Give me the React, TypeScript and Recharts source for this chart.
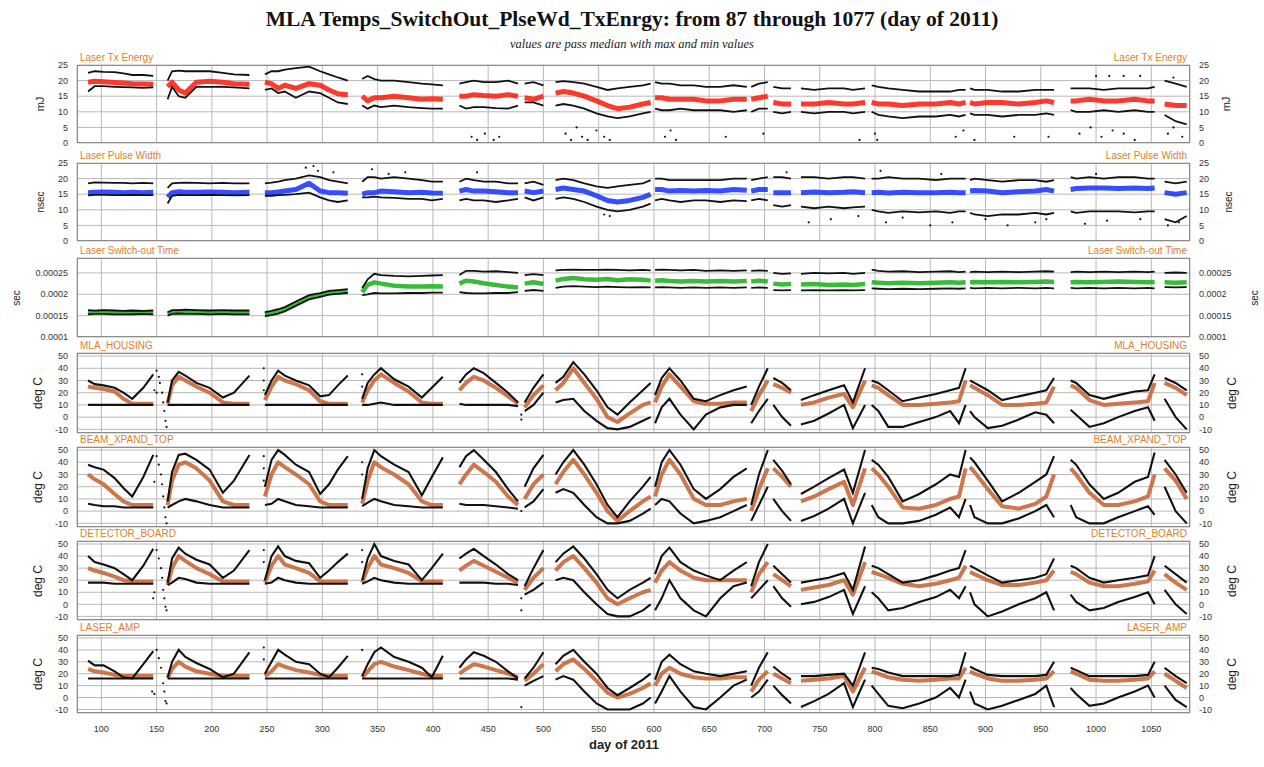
import React from 'react';
import { ComposedChart, Line, Scatter, XAxis, YAxis, CartesianGrid } from 'recharts';

// ---- day grid: one array per pass segment ----
const SEG_DAYS: number[][] = [
  [88, 94, 102, 112, 120, 128, 138, 147],
  [160, 164, 170, 176, 186, 198, 210, 220, 234],
  [248, 254, 260, 266, 276, 288, 298, 306, 314, 323],
  [336, 341, 347, 353, 365, 378, 390, 399, 409],
  [424, 430, 437, 446, 457, 468, 477],
  [483, 491, 500],
  [511, 518, 527, 537, 548, 558, 567, 578, 590, 597],
  [601, 607, 614, 624, 636, 647, 660, 672, 684],
  [688, 695, 703],
  [708, 716, 724],
  [733, 745, 758, 772, 780, 791],
  [797, 803, 812, 825, 840, 855, 868, 876, 882],
  [886, 890, 902, 915, 930, 945, 955, 962],
  [977, 982, 994, 1007, 1020, 1035, 1047, 1053],
  [1062, 1072, 1082],
];

const X_TICKS = [100, 150, 200, 250, 300, 350, 400, 450, 500, 550, 600, 650, 700, 750, 800, 850, 900, 950, 1000, 1050];
const X_DOMAIN: [number, number] = [78, 1085];
const LASER_TICKS = [0, 5, 10, 15, 20, 25];
const SW_TICKS = [0.0001, 0.00015, 0.0002, 0.00025];
const TEMP_TICKS = [-10, 0, 10, 20, 30, 40, 50];

// ---- Laser Tx Energy (mJ) ----
const txMax = [
  [22.5, 23, 22.8, 22.7, 22.3, 21.8, 21.8, 21.5],
  [20, 23, 23.2, 23, 23, 23, 22.5, 22, 21.8],
  [22, 23, 23, 23.5, 24, 24.5, 23, 22, 21, 20],
  [20.5, 21.5, 20.5, 20, 20, 19.5, 19, 18.8, 18.5],
  [19, 19.5, 20, 19.5, 19.5, 20, 19],
  [19, 19.5, 18.5],
  [19.5, 19.8, 19.5, 19, 18, 17, 17.5, 18, 18.5, 19],
  [19.5, 19, 19, 18.5, 18.5, 18, 18, 18.5, 18],
  [18, 19, 19.5],
  [18, 17.5, 17.5],
  [17.5, 17, 17.5, 17.5, 17, 17.5],
  [18.5, 18, 17.5, 17, 16.5, 16.5, 16.5, 17, 17],
  [17.5, 17, 17, 16.5, 16.5, 17, 17, 17],
  [17.5, 17.5, 17.5, 17, 17.5, 17.5, 17.5, 18],
  [20, 19, 18],
];
const txMed = [
  [19.5, 19.8, 19.6, 19.4, 19.2, 19, 18.9, 18.8],
  [18, 19.5, 17, 16, 19.5, 19.8, 19.5, 19, 18.8],
  [19.5, 19, 17.5, 18.5, 17.5, 19, 18.5, 17, 15.8, 15.5],
  [15, 13.5, 14.5, 14.5, 15, 14.5, 14, 14.2, 14],
  [15, 15, 15.5, 15.2, 15, 15.5, 15],
  [14.5, 14, 15],
  [16, 16.5, 16, 15, 13.5, 12, 11, 11.5, 12.5, 13],
  [14.5, 14.5, 14, 14, 14, 13.5, 13.5, 14, 14],
  [14, 14.5, 15],
  [13, 12.5, 12.5],
  [12.5, 12.5, 13, 12.5, 12.5, 13],
  [13, 12.5, 12.5, 12, 12.5, 12.5, 13, 12.5, 13],
  [13, 12.5, 13, 13, 12.5, 13, 13.5, 13],
  [13.5, 13.5, 14, 13.5, 13.5, 14, 13.5, 13.5],
  [12.5, 12, 12],
];
const txMin = [
  [16.5, 18.2, 18.2, 18, 17.9, 17.8, 17.7, 17.8],
  [14, 18, 15, 14.5, 18, 18, 18, 17.8, 17.5],
  [17, 17.5, 16, 16.5, 14.5, 16.5, 16, 14.5, 13, 12.5],
  [12, 11, 12, 11.5, 12, 11.5, 11.2, 11, 11],
  [12, 11, 11.5, 11.5, 11.2, 11, 12],
  [13, 13, 12],
  [12, 12.5, 12, 11, 9.5, 8.5, 8, 8.5, 9.5, 10],
  [11, 10.5, 10.5, 11, 10.5, 10.5, 10.5, 10, 10.5],
  [10, 11, 11],
  [10, 9.5, 10],
  [10, 9.5, 10, 10, 9.5, 10],
  [10, 9, 8.5, 8, 8.5, 8.5, 9, 8.5, 9],
  [9.5, 9, 9, 8.5, 9, 9, 9.5, 9],
  [10.5, 10, 10, 10.5, 10, 10.5, 10, 10],
  [9, 7, 6],
];
const txDots = [
  [435, 2], [440, 1], [447, 3], [455, 1], [460, 2], [520, 3], [525, 1], [530, 5], [535, 2], [540, 1],
  [548, 4], [555, 2], [560, 1], [610, 2], [615, 4], [620, 1], [665, 2], [699, 3], [786, 1], [800, 3],
  [802, 1], [873, 2], [880, 4], [890, 1], [926, 2], [957, 2], [985, 3], [995, 5], [1005, 2], [1015, 4],
  [1025, 3], [1035, 1], [1065, 3], [1070, 5], [1078, 2], [1000, 21.5], [1012, 21.5], [1025, 21.5],
  [1040, 21.5], [1070, 21],
];

// ---- Laser Pulse Width (nsec) ----
const pwMax = [
  [18.5, 18.8, 18.7, 18.6, 18.6, 18.5, 18.6, 18.5],
  [17, 18.5, 18.6, 18.7, 18.6, 18.5, 18.6, 18.5, 18.5],
  [18.5, 18.7, 19, 19.5, 20, 21, 20.5, 19.5, 19, 18.5],
  [19, 20.5, 20.5, 20, 20.5, 20, 19.5, 19, 19],
  [19, 20, 19.5, 19, 19, 18.5, 18.5],
  [18.5, 19, 18],
  [19.5, 20, 19.5, 18.5, 17.5, 17, 17.5, 18, 18.5, 19.5],
  [20, 20, 19.5, 19.5, 19.5, 19.5, 19.5, 20, 20],
  [19.5, 20, 20.5],
  [20.5, 20.5, 20],
  [20.5, 20.5, 20, 20.5, 20.5, 20],
  [20, 20, 20.5, 20, 20, 19.5, 20, 20, 20],
  [19.5, 20, 19.5, 19, 19.5, 19.5, 19, 19.5],
  [20.5, 20, 20.5, 20, 20.5, 20.5, 20, 20],
  [19, 18.5, 19],
];
const pwMed = [
  [15.5, 15.6, 15.7, 15.6, 15.5, 15.6, 15.5, 15.6],
  [14, 15.5, 15.8, 15.6, 15.6, 15.7, 15.6, 15.5, 15.6],
  [15.5, 15.5, 15.7, 16, 16.5, 18.5, 16, 15.5, 15.5, 15.3],
  [15, 15.5, 15.5, 16, 15.8, 15.5, 15.6, 15.4, 15.3],
  [16, 16.5, 16, 16, 15.8, 15.5, 15.5],
  [16, 15.5, 16],
  [16.5, 17, 16.5, 16, 14.5, 13, 12.5, 13, 14, 15],
  [16.5, 16.5, 16, 16.2, 16, 16.2, 16, 16.5, 16.3],
  [16, 16.5, 16.5],
  [15.5, 15.5, 15.5],
  [15.5, 15.7, 15.5, 15.6, 15.8, 15.5],
  [15.5, 15.6, 15.4, 15.6, 15.5, 15.5, 15.6, 15.5, 15.5],
  [16, 16.2, 16, 15.5, 15.8, 16, 16.5, 16],
  [16.5, 16.8, 17, 17, 16.8, 17, 16.8, 17],
  [15.5, 15, 15.5],
];
const pwMin = [
  [14.6, 14.8, 14.8, 14.7, 14.7, 14.8, 14.7, 14.7],
  [12, 14.5, 14.8, 14.7, 14.7, 14.8, 14.7, 14.6, 14.7],
  [14.5, 14.5, 14.7, 14.8, 15, 15.5, 14, 13, 12.5, 13],
  [14, 14, 14.2, 14, 13.8, 13.5, 13.5, 13, 13.5],
  [13, 13.5, 13, 13, 12.5, 13, 13.5],
  [14, 13, 14],
  [13.5, 14, 13.5, 12.5, 11, 10, 9.5, 10, 11, 12],
  [13, 13.5, 13, 12.5, 13, 13, 12.5, 13, 12.8],
  [13, 13.5, 13],
  [11.5, 11, 11.5],
  [11, 10.5, 11, 10.5, 10.8, 11],
  [10, 9.5, 9, 9.5, 9.2, 9.5, 9, 9.5, 9.5],
  [9, 8.5, 8, 8.5, 8.5, 9, 8.5, 9],
  [9.5, 9, 9.5, 9.5, 9.5, 9.2, 9.5, 9.5],
  [7, 6, 8],
];
const pwDots = [
  [285, 23.5], [292, 24], [296, 22.5], [310, 22], [345, 23], [360, 21.5], [375, 22], [440, 22], [720, 22],
  [740, 6], [760, 7], [785, 8], [805, 22.5], [810, 6], [825, 7.5], [850, 5], [860, 21.5], [870, 6],
  [900, 7], [920, 5], [945, 6], [955, 7], [990, 5.5], [1000, 21.5], [1010, 6.5], [1040, 7], [1065, 5],
  [1075, 6], [555, 8.5], [560, 8],
];

// ---- Laser Switch-out Time (sec) ----
const swMax = [
  [1.63e-4, 1.62e-4, 1.63e-4, 1.62e-4, 1.61e-4, 1.62e-4, 1.61e-4, 1.62e-4],
  [1.58e-4, 1.63e-4, 1.63e-4, 1.64e-4, 1.63e-4, 1.62e-4, 1.63e-4, 1.62e-4, 1.62e-4],
  [1.58e-4, 1.61e-4, 1.65e-4, 1.7e-4, 1.83e-4, 1.98e-4, 2.03e-4, 2.08e-4, 2.1e-4, 2.12e-4],
  [2.15e-4, 2.35e-4, 2.48e-4, 2.45e-4, 2.43e-4, 2.42e-4, 2.43e-4, 2.44e-4, 2.45e-4],
  [2.45e-4, 2.55e-4, 2.55e-4, 2.53e-4, 2.54e-4, 2.52e-4, 2.5e-4],
  [2.45e-4, 2.47e-4, 2.45e-4],
  [2.56e-4, 2.57e-4, 2.58e-4, 2.57e-4, 2.57e-4, 2.58e-4, 2.57e-4, 2.56e-4, 2.57e-4, 2.56e-4],
  [2.57e-4, 2.58e-4, 2.57e-4, 2.56e-4, 2.57e-4, 2.55e-4, 2.56e-4, 2.55e-4, 2.56e-4],
  [2.55e-4, 2.56e-4, 2.55e-4],
  [2.5e-4, 2.48e-4, 2.49e-4],
  [2.48e-4, 2.5e-4, 2.49e-4, 2.5e-4, 2.48e-4, 2.5e-4],
  [2.58e-4, 2.55e-4, 2.53e-4, 2.54e-4, 2.52e-4, 2.53e-4, 2.54e-4, 2.52e-4, 2.53e-4],
  [2.52e-4, 2.53e-4, 2.52e-4, 2.53e-4, 2.52e-4, 2.53e-4, 2.54e-4, 2.53e-4],
  [2.52e-4, 2.53e-4, 2.52e-4, 2.53e-4, 2.52e-4, 2.53e-4, 2.52e-4, 2.53e-4],
  [2.5e-4, 2.51e-4, 2.5e-4],
];
const swMed = [
  [1.58e-4, 1.58e-4, 1.59e-4, 1.58e-4, 1.57e-4, 1.58e-4, 1.58e-4, 1.58e-4],
  [1.54e-4, 1.58e-4, 1.59e-4, 1.59e-4, 1.58e-4, 1.58e-4, 1.58e-4, 1.58e-4, 1.57e-4],
  [1.53e-4, 1.56e-4, 1.6e-4, 1.65e-4, 1.78e-4, 1.93e-4, 1.98e-4, 2.03e-4, 2.05e-4, 2.07e-4],
  [2.05e-4, 2.22e-4, 2.28e-4, 2.25e-4, 2.2e-4, 2.18e-4, 2.18e-4, 2.19e-4, 2.18e-4],
  [2.25e-4, 2.32e-4, 2.3e-4, 2.26e-4, 2.22e-4, 2.18e-4, 2.16e-4],
  [2.25e-4, 2.28e-4, 2.24e-4],
  [2.32e-4, 2.36e-4, 2.38e-4, 2.35e-4, 2.34e-4, 2.36e-4, 2.33e-4, 2.35e-4, 2.34e-4, 2.32e-4],
  [2.32e-4, 2.33e-4, 2.31e-4, 2.3e-4, 2.31e-4, 2.3e-4, 2.31e-4, 2.3e-4, 2.31e-4],
  [2.3e-4, 2.32e-4, 2.3e-4],
  [2.25e-4, 2.23e-4, 2.24e-4],
  [2.23e-4, 2.24e-4, 2.22e-4, 2.23e-4, 2.22e-4, 2.24e-4],
  [2.28e-4, 2.27e-4, 2.26e-4, 2.27e-4, 2.26e-4, 2.27e-4, 2.28e-4, 2.27e-4, 2.28e-4],
  [2.28e-4, 2.29e-4, 2.28e-4, 2.29e-4, 2.28e-4, 2.29e-4, 2.3e-4, 2.29e-4],
  [2.28e-4, 2.29e-4, 2.28e-4, 2.29e-4, 2.3e-4, 2.29e-4, 2.28e-4, 2.29e-4],
  [2.28e-4, 2.27e-4, 2.28e-4],
];
const swMin = [
  [1.53e-4, 1.54e-4, 1.54e-4, 1.53e-4, 1.53e-4, 1.53e-4, 1.54e-4, 1.53e-4],
  [1.5e-4, 1.54e-4, 1.55e-4, 1.54e-4, 1.54e-4, 1.53e-4, 1.54e-4, 1.53e-4, 1.53e-4],
  [1.49e-4, 1.51e-4, 1.55e-4, 1.6e-4, 1.73e-4, 1.88e-4, 1.94e-4, 1.99e-4, 2.01e-4, 2.03e-4],
  [1.98e-4, 2e-4, 2.03e-4, 2.02e-4, 2.02e-4, 2.03e-4, 2.03e-4, 2.04e-4, 2.04e-4],
  [2.05e-4, 2.03e-4, 2.02e-4, 2.02e-4, 2.03e-4, 2.03e-4, 2.05e-4],
  [2.08e-4, 2.1e-4, 2.08e-4],
  [2.15e-4, 2.18e-4, 2.19e-4, 2.18e-4, 2.17e-4, 2.18e-4, 2.17e-4, 2.16e-4, 2.17e-4, 2.16e-4],
  [2.16e-4, 2.17e-4, 2.16e-4, 2.15e-4, 2.16e-4, 2.15e-4, 2.16e-4, 2.15e-4, 2.16e-4],
  [2.15e-4, 2.16e-4, 2.15e-4],
  [2.1e-4, 2.09e-4, 2.1e-4],
  [2.09e-4, 2.1e-4, 2.09e-4, 2.1e-4, 2.09e-4, 2.1e-4],
  [2.14e-4, 2.13e-4, 2.12e-4, 2.13e-4, 2.12e-4, 2.13e-4, 2.14e-4, 2.13e-4, 2.14e-4],
  [2.15e-4, 2.14e-4, 2.15e-4, 2.14e-4, 2.15e-4, 2.14e-4, 2.15e-4, 2.14e-4],
  [2.15e-4, 2.14e-4, 2.15e-4, 2.14e-4, 2.15e-4, 2.14e-4, 2.15e-4, 2.14e-4],
  [2.17e-4, 2.16e-4, 2.17e-4],
];

// ---- MLA_HOUSING (deg C) ----
const mhMax = [
  [30, 27, 26, 24, 20, 15, 24, 35],
  [12, 30, 37, 34, 28, 24, 16, 20, 34],
  [18, 30, 38, 34, 30, 26, 17, 18, 26, 34],
  [15, 28, 35, 40, 31, 25, 16, 24, 33],
  [28, 35, 40, 36, 28, 20, 12],
  [12, 24, 35],
  [28, 33, 45, 35, 22, 8, 2, 12, 22, 28],
  [18, 32, 40, 30, 15, 13, 18, 22, 25],
  [10, 25, 40],
  [32, 28, 22],
  [14, 18, 22, 26, 12, 40],
  [30, 28, 22, 13, 16, 19, 22, 24, 40],
  [30, 28, 22, 14, 17, 20, 22, 32],
  [30, 28, 18, 15, 18, 21, 22, 35],
  [32, 28, 22],
];
const mhMed = [
  [25, 24, 23, 21, 15, 11, 11, 11],
  [11, 26, 33, 30, 25, 20, 12, 11, 11],
  [14, 25, 33, 30, 27, 22, 13, 11, 11, 11],
  [12, 22, 30, 35, 28, 21, 12, 11, 11],
  [22, 28, 33, 30, 24, 17, 11],
  [8, 18, 26],
  [22, 28, 40, 28, 15, 0, -4, 3, 10, 12],
  [12, 25, 35, 25, 13, 11, 11, 12, 12],
  [5, 18, 30],
  [27, 24, 20],
  [10, 12, 16, 19, 8, 30],
  [26, 24, 18, 10, 10, 11, 12, 13, 30],
  [26, 24, 18, 10, 10, 11, 12, 25],
  [26, 24, 14, 10, 11, 12, 13, 28],
  [28, 24, 18],
];
const mhMin = [
  [10, 10, 10, 10, 10, 10, 10, 10],
  [10, 10, 10, 10, 10, 10, 10, 10, 10],
  [10, 10, 10, 10, 10, 10, 10, 10, 10, 10],
  [10, 10, 11, 12, 10, 10, 10, 10, 10],
  [11, 10, 10, 10, 10, 10, 9],
  [5, 10, 20],
  [12, 14, 15, 5, -3, -9, -10, -8, -3, 0],
  [-5, 8, 15, 2, -10, 2, 8, 10, 10],
  [-5, 5, 15],
  [10, 0, -7],
  [-6, -3, 3, 10, -9, 10],
  [10, 5, -8, -8, -4, 0, 5, -5, 10],
  [5, 0, -9, -7, -2, 4, 2, -5],
  [6, 2, -8, -5, 0, 5, 8, -3],
  [15, 0, -10],
];
const mhDots = [
  [150, 38], [152, 33], [153, 28], [155, 20], [156, 12], [157, 5], [158, -3], [159, -8], [148, 22],
  [150, 20], [247, 40], [247, 30], [247, 22], [336, 35], [336, 25], [480, 2], [480, -2],
];

// ---- BEAM_XPAND_TOP (deg C) ----
const bxMax = [
  [38, 36, 34, 27, 19, 12, 28, 46],
  [8, 32, 46, 47, 42, 34, 15, 25, 46],
  [20, 42, 50, 46, 38, 32, 14, 22, 34, 45],
  [10, 35, 50, 45, 38, 32, 13, 28, 44],
  [36, 45, 50, 42, 32, 18, 8],
  [20, 35, 46],
  [30, 40, 50, 38, 22, 5, -5, 8, 20, 28],
  [20, 40, 50, 38, 18, 10, 18, 28, 35],
  [5, 30, 50],
  [42, 33, 22],
  [14, 20, 27, 34, 15, 50],
  [42, 38, 28, 8, 14, 22, 30, 28, 50],
  [44, 40, 25, 8, 15, 24, 30, 45],
  [42, 38, 22, 10, 15, 24, 28, 48],
  [42, 30, 15],
];
const bxMed = [
  [30, 26, 22, 14, 8, 5, 5, 5],
  [5, 25, 38, 40, 35, 25, 8, 5, 5],
  [12, 30, 40, 36, 30, 22, 8, 5, 5, 5],
  [6, 25, 40, 36, 30, 22, 8, 5, 5],
  [22, 30, 38, 32, 24, 12, 5],
  [10, 22, 30],
  [22, 32, 42, 30, 15, 0, -8, 0, 8, 12],
  [12, 30, 42, 30, 10, 5, 5, 8, 10],
  [0, 18, 35],
  [35, 28, 20],
  [8, 12, 18, 24, 5, 35],
  [35, 30, 20, 3, 2, 5, 10, 12, 35],
  [36, 32, 18, 4, 2, 6, 12, 30],
  [35, 30, 15, 5, 5, 8, 12, 30],
  [35, 25, 10],
];
const bxMin = [
  [6, 5, 4, 4, 3, 3, 3, 3],
  [3, 5, 8, 10, 8, 5, 3, 3, 3],
  [5, 6, 10, 8, 5, 4, 3, 3, 3, 3],
  [4, 7, 10, 8, 5, 4, 3, 3, 3],
  [6, 5, 5, 5, 4, 3, 2],
  [3, 8, 18],
  [15, 18, 15, 5, -5, -10, -10, -8, -2, 2],
  [5, 10, 8, -2, -10, -8, -5, 0, 5],
  [-8, 5, 20],
  [10, 0, -8],
  [-8, -4, 2, 10, -10, 15],
  [5, -5, -10, -10, -8, -3, 3, -5, 10],
  [5, -5, -10, -10, -6, 0, 5, -5],
  [5, -5, -10, -10, -5, 0, 4, -3],
  [20, 0, -10],
];
const bxDots = [
  [150, 45], [152, 38], [154, 30], [155, 22], [156, 12], [157, 3], [158, -5], [159, -10], [148, 24],
  [247, 45], [247, 35], [247, 25], [336, 40], [336, 30], [480, 0],
];

// ---- DETECTOR_BOARD (deg C) ----
const dbMax = [
  [40, 35, 33, 30, 25, 20, 32, 46],
  [18, 38, 47, 42, 37, 33, 22, 28, 45],
  [20, 40, 48, 40, 36, 34, 22, 28, 35, 42],
  [20, 38, 50, 40, 36, 33, 20, 30, 42],
  [38, 42, 46, 40, 33, 25, 20],
  [15, 30, 45],
  [35, 42, 48, 38, 25, 12, 5, 12, 18, 22],
  [25, 40, 47, 35, 28, 24, 20, 28, 35],
  [15, 35, 50],
  [32, 25, 18],
  [18, 20, 22, 26, 12, 48],
  [32, 30, 25, 18, 20, 24, 28, 30, 45],
  [32, 30, 24, 18, 20, 22, 25, 38],
  [32, 30, 22, 18, 20, 22, 24, 40],
  [32, 25, 18],
];
const dbMed = [
  [30, 28, 26, 23, 20, 19, 19, 19],
  [16, 30, 40, 36, 30, 25, 19, 19, 19],
  [18, 32, 40, 33, 30, 26, 19, 19, 19, 19],
  [18, 30, 40, 33, 30, 26, 19, 19, 19],
  [28, 32, 36, 32, 27, 22, 18],
  [12, 22, 30],
  [28, 35, 40, 30, 18, 5, 0, 5, 10, 12],
  [18, 28, 35, 28, 22, 20, 20, 20, 20],
  [10, 25, 35],
  [25, 20, 15],
  [12, 14, 16, 20, 8, 35],
  [27, 25, 22, 17, 15, 17, 20, 22, 32],
  [27, 25, 20, 16, 16, 18, 20, 28],
  [27, 25, 18, 15, 15, 17, 19, 28],
  [25, 18, 12],
];
const dbMin = [
  [18, 18, 18, 17, 17, 17, 17, 17],
  [16, 18, 22, 21, 18, 17, 17, 17, 17],
  [17, 18, 22, 20, 18, 17, 17, 17, 17, 17],
  [17, 19, 22, 20, 18, 17, 17, 17, 17],
  [18, 18, 18, 18, 17, 17, 16],
  [8, 12, 18],
  [20, 22, 20, 10, 0, -8, -10, -10, -5, 0],
  [-5, 5, 20, 5, -5, -10, 5, 15, 18],
  [5, 12, 20],
  [15, 5, -2],
  [0, 2, 6, 12, -8, 15],
  [10, 5, -5, -3, 2, 6, 12, 5, 15],
  [10, 0, -10, -6, 0, 5, 10, -5],
  [8, 2, -5, -3, 2, 6, 10, 0],
  [12, 0, -8],
];
const dbDots = [
  [150, 45], [152, 38], [154, 30], [155, 22], [156, 12], [157, 5], [158, -2], [159, -5], [148, 10],
  [147, 5], [247, 45], [247, 35], [336, 45], [336, 35], [480, 5], [480, -5],
];

// ---- LASER_AMP (deg C) ----
const laMax = [
  [31, 27, 27, 22, 17, 16, 28, 39],
  [17, 30, 40, 34, 29, 24, 17, 20, 38],
  [20, 30, 40, 36, 30, 28, 20, 17, 25, 35],
  [18, 28, 38, 42, 34, 30, 25, 17, 35],
  [25, 32, 38, 35, 30, 22, 16],
  [16, 25, 38],
  [28, 35, 40, 30, 20, 8, 2, 8, 15, 20],
  [15, 30, 36, 28, 22, 20, 18, 20, 22],
  [10, 25, 38],
  [26, 20, 15],
  [18, 18, 19, 20, 10, 38],
  [25, 24, 21, 18, 18, 18, 18, 19, 38],
  [26, 24, 19, 18, 18, 18, 19, 30],
  [25, 23, 18, 18, 18, 18, 19, 30],
  [25, 18, 12],
];
const laMed = [
  [24, 22, 21, 19, 18, 18, 18, 18],
  [16, 24, 30, 26, 22, 20, 18, 18, 18],
  [18, 22, 28, 26, 23, 21, 19, 18, 18, 18],
  [17, 22, 28, 30, 26, 23, 20, 18, 18],
  [20, 24, 28, 26, 23, 20, 17],
  [14, 20, 28],
  [22, 28, 32, 24, 14, 4, 0, 3, 8, 12],
  [10, 20, 25, 20, 17, 16, 16, 17, 17],
  [5, 15, 22],
  [20, 16, 12],
  [14, 15, 16, 18, 5, 25],
  [22, 20, 17, 15, 14, 15, 16, 16, 25],
  [22, 20, 16, 14, 14, 15, 16, 22],
  [22, 20, 15, 14, 14, 15, 16, 22],
  [20, 14, 8],
];
const laMin = [
  [16, 16, 16, 16, 16, 16, 16, 16],
  [16, 16, 16, 16, 16, 16, 16, 16, 16],
  [16, 16, 16, 16, 16, 16, 16, 16, 16, 16],
  [16, 16, 16, 16, 16, 16, 16, 16, 16],
  [16, 16, 16, 16, 16, 16, 15],
  [10, 14, 18],
  [15, 18, 15, 5, -5, -10, -10, -10, -5, 0],
  [-5, 5, 18, 5, -8, -10, 0, 10, 15],
  [0, 5, 15],
  [10, 2, -5],
  [-8, -3, 3, 12, -8, 15],
  [10, 3, -7, -9, -5, 0, 8, 0, 15],
  [5, -5, -10, -7, -2, 3, 10, -8],
  [8, 3, -7, -5, 0, 5, 10, 0],
  [10, -2, -8],
];
const laDots = [
  [150, 40], [152, 33], [154, 25], [156, 12], [157, 5], [158, -3], [159, -5], [146, 5], [148, 3],
  [247, 42], [247, 32], [336, 40], [480, -8],
];

// ---- layout ----
const W = 1264;
const H = 767;
const PLOT_L = 77;
const PLOT_R = 1190;
const AXIS_W = 60;
const PAD = 8;

type Panel = {
  label: string;
  unit: string;
  unitL: number;
  unitR: number;
  unitSize: number;
  top: number;
  h: number;
  domain: [number, number];
  ticks: number[];
  color: string;
  medW: number;
  lineW: number;
  max: number[][];
  med: number[][];
  min: number[][];
  dots: number[][];
};

const TEMP_DOMAIN: [number, number] = [-13, 52.5];
const TEMP_COLOR = '#c9683a';

const PANELS: Panel[] = [
  { label: 'Laser Tx Energy', unit: 'mJ', unitL: 40, unitR: 1226, unitSize: 11, top: 65, h: 78, domain: [0, 25], ticks: LASER_TICKS, color: '#ff2414', medW: 5, lineW: 1.8, max: txMax, med: txMed, min: txMin, dots: txDots },
  { label: 'Laser Pulse Width', unit: 'nsec', unitL: 40, unitR: 1228, unitSize: 10, top: 163, h: 78, domain: [0, 25], ticks: LASER_TICKS, color: '#1f3cff', medW: 5, lineW: 1.8, max: pwMax, med: pwMed, min: pwMin, dots: pwDots },
  { label: 'Laser Switch-out Time', unit: 'sec', unitL: 16, unitR: 1254, unitSize: 10, top: 258, h: 79, domain: [0.0001, 0.000285], ticks: SW_TICKS, color: '#22b522', medW: 4.5, lineW: 1.8, max: swMax, med: swMed, min: swMin, dots: [] },
  { label: 'MLA_HOUSING', unit: 'deg C', unitL: 38, unitR: 1232, unitSize: 12, top: 353, h: 80, domain: TEMP_DOMAIN, ticks: TEMP_TICKS, color: TEMP_COLOR, medW: 4, lineW: 2.1, max: mhMax, med: mhMed, min: mhMin, dots: mhDots },
  { label: 'BEAM_XPAND_TOP', unit: 'deg C', unitL: 38, unitR: 1232, unitSize: 12, top: 447, h: 80, domain: TEMP_DOMAIN, ticks: TEMP_TICKS, color: TEMP_COLOR, medW: 4, lineW: 2.1, max: bxMax, med: bxMed, min: bxMin, dots: bxDots },
  { label: 'DETECTOR_BOARD', unit: 'deg C', unitL: 38, unitR: 1232, unitSize: 12, top: 541, h: 79, domain: TEMP_DOMAIN, ticks: TEMP_TICKS, color: TEMP_COLOR, medW: 4, lineW: 2.1, max: dbMax, med: dbMed, min: dbMin, dots: dbDots },
  { label: 'LASER_AMP', unit: 'deg C', unitL: 38, unitR: 1232, unitSize: 12, top: 635, h: 78, domain: TEMP_DOMAIN, ticks: TEMP_TICKS, color: TEMP_COLOR, medW: 4, lineW: 2.1, max: laMax, med: laMed, min: laMin, dots: laDots },
];

type Row = { day: number; max: number | null; med: number | null; min: number | null };

function buildRows(p: Panel): Row[] {
  const rows: Row[] = [];
  SEG_DAYS.forEach((days, s) => {
    days.forEach((d, j) => {
      rows.push({ day: d, max: p.max[s]?.[j] ?? null, med: p.med[s]?.[j] ?? null, min: p.min[s]?.[j] ?? null });
    });
    if (s < SEG_DAYS.length - 1) {
      rows.push({ day: (days[days.length - 1] + SEG_DAYS[s + 1][0]) / 2, max: null, med: null, min: null });
    }
  });
  return rows;
}

const DotShape = (props: any) => {
  if (props.cx == null || props.cy == null) return null;
  return <circle cx={props.cx} cy={props.cy} r={1.1} fill="#111" />;
};

const EmptyTick = () => <g />;

const TICK_STYLE = { fontSize: 9, fill: '#333', fontFamily: 'Liberation Sans, Arial, sans-serif' };

function PanelChart({ p, last }: { p: Panel; last: boolean }) {
  const rows = buildRows(p);
  const dotRows = p.dots.map(([d, v]) => ({ day: d, v }));
  const xh = last ? 26 : 0;
  const bottomPad = last ? 0 : PAD;
  return (
    <div style={{ position: 'absolute', left: 0, top: p.top - PAD }}>
      <ComposedChart
        width={W}
        height={p.h + PAD + bottomPad + xh}
        data={rows}
        margin={{ top: PAD, bottom: bottomPad, left: PLOT_L - AXIS_W, right: W - PLOT_R - AXIS_W }}
      >
        <CartesianGrid stroke="#b8b8b8" strokeWidth={1} />
        <XAxis
          type="number"
          dataKey="day"
          domain={X_DOMAIN}
          ticks={X_TICKS}
          allowDataOverflow
          interval={0}
          height={xh}
          tick={last ? TICK_STYLE : EmptyTick}
          tickLine={false}
          axisLine={false}
          tickMargin={7}
        />
        <YAxis
          width={AXIS_W}
          domain={p.domain}
          ticks={p.ticks}
          allowDataOverflow
          interval={0}
          tick={TICK_STYLE}
          tickLine={false}
          axisLine={false}
          tickMargin={3}
        />
        <YAxis
          yAxisId="r"
          orientation="right"
          width={AXIS_W}
          domain={p.domain}
          ticks={p.ticks}
          allowDataOverflow
          interval={0}
          tick={TICK_STYLE}
          tickLine={false}
          axisLine={false}
          tickMargin={3}
        />
        <Line dataKey="med" stroke={p.color} strokeWidth={p.medW} strokeOpacity={0.9} dot={false} activeDot={false} isAnimationActive={false} connectNulls={false} strokeLinejoin="round" />
        <Line dataKey="max" stroke="#111" strokeWidth={p.lineW} dot={false} activeDot={false} isAnimationActive={false} connectNulls={false} />
        <Line dataKey="min" stroke="#111" strokeWidth={p.lineW} dot={false} activeDot={false} isAnimationActive={false} connectNulls={false} />
        {dotRows.length > 0 && (
          <Scatter data={dotRows} dataKey="v" shape={DotShape} isAnimationActive={false} />
        )}
      </ComposedChart>
    </div>
  );
}

export default function App() {
  const sans = 'Liberation Sans, Arial, sans-serif';
  return (
    <div style={{ position: 'absolute', left: 0, top: 0, width: W, height: H, background: '#fff', overflow: 'hidden', fontFamily: sans }}>
      <div style={{ position: 'absolute', left: 0, top: 7, width: W, textAlign: 'center', fontFamily: 'Liberation Serif, DejaVu Serif, serif', fontWeight: 'bold', fontSize: 21.5, color: '#111' }}>
        MLA Temps_SwitchOut_PlseWd_TxEnrgy: from 87 through 1077 (day of 2011)
      </div>
      <div style={{ position: 'absolute', left: 0, top: 37, width: W, textAlign: 'center', fontFamily: 'Liberation Serif, DejaVu Serif, serif', fontStyle: 'italic', fontSize: 12.5, color: '#222' }}>
        values are pass median with max and min values
      </div>
      {PANELS.map((p, i) => (
        <PanelChart key={p.label} p={p} last={i === PANELS.length - 1} />
      ))}
      {PANELS.map((p) => (
        <div key={'b' + p.label} style={{ position: 'absolute', left: PLOT_L, top: p.top, width: PLOT_R - PLOT_L, height: p.h, border: '1px solid #8c8c8c', boxSizing: 'border-box', pointerEvents: 'none' }} />
      ))}
      {PANELS.map((p) => (
        <React.Fragment key={'t' + p.label}>
          <div style={{ position: 'absolute', left: PLOT_L + 1, top: p.top - 13, fontSize: 10, color: '#e0802c', background: '#fff', padding: '0 2px', lineHeight: '12px', whiteSpace: 'nowrap' }}>
            {p.label}
          </div>
          <div style={{ position: 'absolute', right: W - PLOT_R + 1, top: p.top - 13, fontSize: 10, color: '#e0802c', background: '#fff', padding: '0 2px', lineHeight: '12px', whiteSpace: 'nowrap' }}>
            {p.label}
          </div>
          <div style={{ position: 'absolute', left: p.unitL, top: p.top + p.h / 2, transform: 'translate(-50%, -50%) rotate(-90deg)', fontSize: p.unitSize, color: '#222', whiteSpace: 'nowrap' }}>
            {p.unit}
          </div>
          <div style={{ position: 'absolute', left: p.unitR, top: p.top + p.h / 2, transform: 'translate(-50%, -50%) rotate(-90deg)', fontSize: p.unitSize, color: '#222', whiteSpace: 'nowrap' }}>
            {p.unit}
          </div>
        </React.Fragment>
      ))}
      <div style={{ position: 'absolute', left: 624, top: 737, transform: 'translateX(-50%)', fontSize: 13, fontWeight: 'bold', color: '#222', whiteSpace: 'nowrap' }}>
        day of 2011
      </div>
    </div>
  );
}
